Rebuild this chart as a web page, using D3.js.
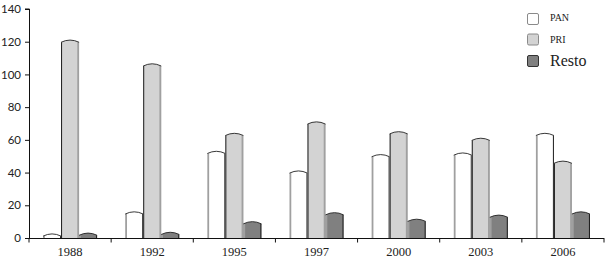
<!DOCTYPE html>
<html>
<head>
<meta charset="utf-8">
<script src="https://cdn.jsdelivr.net/npm/d3@7"></script>
<style>
html,body{margin:0;padding:0;background:#fff;}
svg{display:block;}
</style>
</head>
<body>
<svg id="chart" width="607" height="262"></svg>
<script>
const categories = ["1988","1992","1995","1997","2000","2003","2006"];
const seriesNames = ["PAN","PRI","Resto"];
const PAN   = [2.5, 16, 53, 41, 51, 52, 64];
const PRI   = [121, 106.5, 64, 71, 65, 61, 47];
const Resto = [3, 3.5, 10, 15.5, 11.5, 14, 16];
const yTicks = [0,20,40,60,80,100,120,140];

const fills = {PAN:"#ffffff", PRI:"#d3d3d3", Resto:"#808080"};
const edgeL = {PAN:["#a0a0a0",1.8], PRI:["#1a1a1a",1], Resto:["#a0a0a0",1.8]};
const edgeR = {PAN:["#1a1a1a",1], PRI:["#a0a0a0",1.8], Resto:["#1a1a1a",1]};
const legendStroke = {PAN:"#8a8a8a", PRI:"#8a8a8a", Resto:"#333"};

const seriesData = {PAN, PRI, Resto};
const svg = d3.select("#chart");
const m = {left:29, right:3, top:9, bottom:24};
const W = 607, H = 262;

const x = d3.scaleBand().domain(categories).range([m.left, W - m.right]).paddingInner(0).paddingOuter(0);
const xi = d3.scaleBand().domain(seriesNames).range([0, x.bandwidth()]).paddingOuter(0.78).paddingInner(0);
const y = d3.scaleLinear().domain([0,140]).range([H - m.bottom, m.top]);

// bars
const g = svg.append("g");
categories.forEach((c, ci) => {
  seriesNames.forEach(s => {
    const v = seriesData[s][ci];
    const x0 = x(c) + xi(s), w = xi.bandwidth();
    const yt = y(v), yb = y(0);
    const cap = 2.2;
    const bg = g.append("g");
    bg.append("path")
      .attr("d", `M${x0},${yb} L${x0},${yt+cap} Q${x0+w/2},${yt-cap} ${x0+w},${yt+cap} L${x0+w},${yb} Z`)
      .attr("fill", fills[s]);
    const [lc, lw] = edgeL[s], [rc, rw] = edgeR[s];
    bg.append("line").attr("x1", x0+lw/2).attr("x2", x0+lw/2).attr("y1", yt+cap).attr("y2", yb)
      .attr("stroke", lc).attr("stroke-width", lw);
    bg.append("line").attr("x1", x0+w-rw/2).attr("x2", x0+w-rw/2).attr("y1", yt+cap).attr("y2", yb)
      .attr("stroke", rc).attr("stroke-width", rw);
    bg.append("path")
      .attr("d", `M${x0},${yt+cap} Q${x0+w/2},${yt-cap} ${x0+w},${yt+cap}`)
      .attr("fill", "none").attr("stroke", "#222").attr("stroke-width", 0.9);
  });
});

// y axis
const yAxis = d3.axisLeft(y).tickValues(yTicks).tickSize(4).tickPadding(4);
const ya = svg.append("g").attr("transform", `translate(${m.left},0)`).call(yAxis);
ya.select(".domain").attr("stroke", "#111").attr("d", `M-4,${y(140)}H0.5V${y(0)}`);
ya.selectAll(".tick line").attr("stroke", "#111");
ya.selectAll("text").attr("font-family", "Lato, 'Open Sans', sans-serif").attr("font-size", 11.5).attr("fill", "#222");

// x axis
const xa = svg.append("g").attr("transform", `translate(0,${y(0)})`);
xa.append("line").attr("x1", m.left).attr("x2", W - m.right).attr("y1", 0.5).attr("y2", 0.5).attr("stroke", "#111");
const bounds = categories.map(c => x(c)).concat([x(categories[categories.length-1]) + x.bandwidth()]);
xa.selectAll(".xt").data(bounds).enter().append("line")
  .attr("x1", d => d).attr("x2", d => d).attr("y1", 0).attr("y2", 4.5).attr("stroke", "#111");
xa.selectAll(".xl").data(categories).enter().append("text")
  .attr("x", d => x(d) + x.bandwidth()/2).attr("y", 18)
  .attr("text-anchor", "middle")
  .attr("font-family", "'Liberation Serif', 'DejaVu Serif', serif").attr("font-size", 12.5).attr("fill", "#222")
  .text(d => d);

// legend
const legY = {PAN:13, PRI:33.5, Resto:55};
const legFont = {PAN:10, PRI:10, Resto:16};
const legBase = {PAN:21, PRI:43, Resto:65.5};
const lg = svg.append("g");
seriesNames.forEach(s => {
  lg.append("rect").attr("x", 527.5).attr("y", legY[s]+0.5).attr("width", 11).attr("height", 11)
    .attr("rx", 1.5).attr("fill", fills[s]).attr("stroke", legendStroke[s]).attr("stroke-width", 1);
  lg.append("text").attr("x", 550).attr("y", legBase[s])
    .attr("font-family", "'Liberation Serif', 'DejaVu Serif', serif").attr("font-size", legFont[s])
    .attr("fill", "#222").text(s);
});
</script>
</body>
</html>
